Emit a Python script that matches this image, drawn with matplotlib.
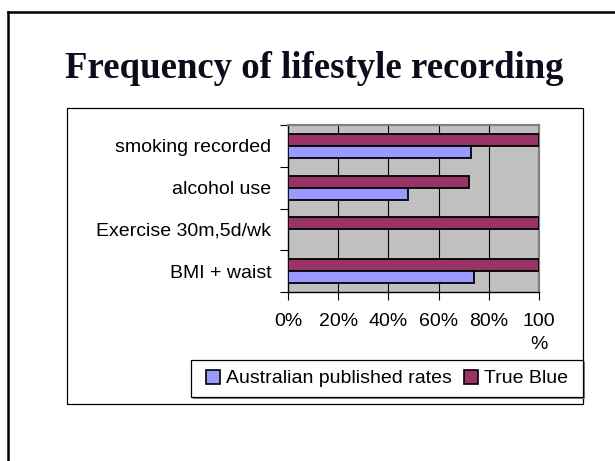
import matplotlib
matplotlib.use("Agg")
import matplotlib.pyplot as plt
from matplotlib.patches import Rectangle
from matplotlib.lines import Line2D
import numpy as np

# data
categories = ["BMI + waist", "Exercise 30m,5d/wk", "alcohol use", "smoking recorded"]
australian = [74, 0, 48, 73]
true_blue = [100, 100, 72, 100]
x_ticks = [0, 20, 40, 60, 80, 100]
x_labels = ["0%", "20%", "40%", "60%", "80%", "100\n%"]
series_names = ["Australian published rates", "True Blue"]

W, H = 615, 461
fig = plt.figure(figsize=(W / 100, H / 100), dpi=100)

def px(x0, y0, x1, y1):
    # pixel box -> figure fraction [left, bottom, width, height]
    return [x0 / W, 1 - y1 / H, (x1 - x0) / W, (y1 - y0) / H]

# slide frame
fig.add_artist(Line2D([8 / W, 8 / W], [0, 1 - 12 / H], color="black", lw=1.8))
fig.add_artist(Line2D([8 / W, 1], [1 - 12 / H, 1 - 12 / H], color="black", lw=1.8))

# title
fig.text(65 / W, 1 - 78 / H, "Frequency of lifestyle recording", family="Liberation Serif",
         weight="bold", fontsize=26.5, color="#0c0c1c", ha="left", va="baseline")

# chart box
b = px(67, 108, 583, 404)
fig.add_artist(Rectangle((b[0], b[1]), b[2], b[3], transform=fig.transFigure,
                         facecolor="white", edgecolor="black", lw=0.9, zorder=0))

ax = fig.add_axes(px(288, 125, 539, 292))
ax.set_facecolor("#c0c0c0")

y = np.arange(len(categories))
h = 0.287
ax.barh(y + h / 2, true_blue, height=h, color="#993366", edgecolor="black", lw=1.3, zorder=3)
ax.barh(y - h / 2, australian, height=h, color="#9999ff", edgecolor="black", lw=1.3, zorder=3)

ax.set_xlim(0, 100)
ax.set_ylim(-0.5, len(categories) - 0.5)
for gx in x_ticks[1:-1]:
    ax.axvline(gx, color="black", lw=0.8, zorder=1)

fs = 14
ax.set_xticks(x_ticks)
ax.set_xticklabels(x_labels, family="Liberation Sans", fontsize=fs, linespacing=1.5)
ax.tick_params(axis="x", direction="out", length=6, width=0.8, pad=9)

ax.set_yticks(np.arange(len(categories) + 1) - 0.5)
ax.set_yticklabels([])
ax.set_yticks(y, minor=True)
ax.set_yticklabels(categories, minor=True, family="Liberation Sans", fontsize=fs)
ax.tick_params(axis="y", which="major", direction="out", length=6, width=0.8)
ax.tick_params(axis="y", which="minor", length=0, pad=12)

for s in ["left", "bottom"]:
    ax.spines[s].set_color("black")
    ax.spines[s].set_linewidth(1.0)
for s in ["top", "right"]:
    ax.spines[s].set_color("#808080")
    ax.spines[s].set_linewidth(1.6)

# legend
lb = px(191, 360, 583, 397)
handles = [Rectangle((0, 0), 1, 1, facecolor="#9999ff", edgecolor="black", lw=1.2),
           Rectangle((0, 0), 1, 1, facecolor="#993366", edgecolor="black", lw=1.2)]
leg = fig.legend(handles, series_names, ncol=2, loc="center",
                 bbox_to_anchor=(lb[0] + lb[2] / 2, lb[1] + lb[3] / 2),
                 prop={"family": "Liberation Sans", "size": fs},
                 frameon=False, handlelength=0.75, handleheight=0.75,
                 handletextpad=0.3, columnspacing=0.6, borderpad=0.2)
fig.add_artist(Rectangle((lb[0] + 2 / W, lb[1] - 2 / H), lb[2], lb[3], transform=fig.transFigure,
                         facecolor="#808080", edgecolor="none", zorder=1))
fig.add_artist(Rectangle((lb[0], lb[1]), lb[2], lb[3], transform=fig.transFigure,
                         facecolor="white", edgecolor="black", lw=0.9, zorder=1.5))

fig.savefig("out.png", dpi=100)
